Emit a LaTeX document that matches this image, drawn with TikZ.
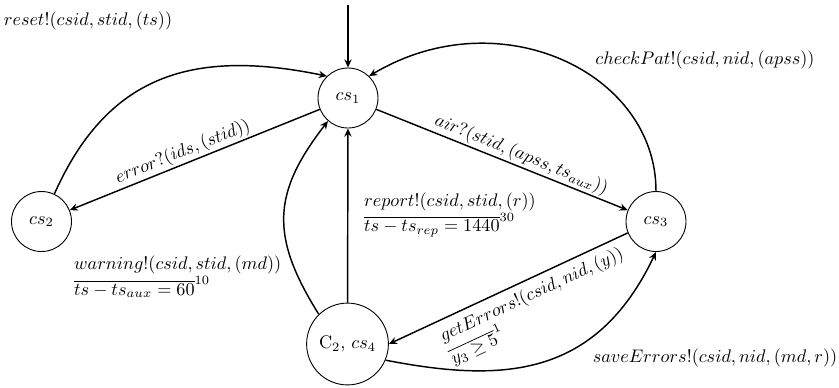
\documentclass[tikz,border=0pt]{standalone}
\usetikzlibrary{arrows.meta}
\begin{document}
\begin{tikzpicture}[x=0.55pt,y=-0.55pt,
  state/.style={circle,draw,line width=0.5pt,minimum size=33pt,inner sep=0pt},
  bigstate/.style={circle,draw,line width=0.5pt,minimum size=45pt,inner sep=0pt},
  edge/.style={line width=0.8pt,-{Stealth[length=4.5pt,width=4pt,inset=1.5pt]}},
  lbl/.style={font=\normalsize,inner sep=1pt,align=left}]
\useasboundingbox (0,0) rectangle (839,387);
\node[state] (cs1) at (348,98) {$cs_1$};
\node[state] (cs2) at (41.5,221.5) {$cs_2$};
\node[state] (cs3) at (656,221.5) {$cs_3$};
\node[bigstate] (cs4) at (347.5,344) {$\mathrm{C}_2$, $cs_4$};
\coordinate (init) at (348,5);
% initial
\draw[edge] (init) -- (cs1);
% cs1 -> cs2
\draw[edge] (cs1) -- node[lbl,above,sloped,pos=0.53] {$error?(ids,(stid))$} (cs2);
% cs2 -> cs1
\draw[edge] (cs2.65) .. controls (107,76) and (191,48) .. (cs1.134);
\node[lbl] (lreset) at (88,21) {$reset!(csid,stid,(ts))$};
% cs1 -> cs3
\draw[edge] (cs1) -- node[lbl,above,sloped,pos=0.56] {$air?(stid,(apss,ts_{aux}))$} (cs3);
% cs3 -> cs1
\draw[edge] (cs3.90) .. controls (656,72) and (499,-1.5) .. (cs1.46);
\node[lbl] (lcheck) at (705,60) {$checkPat!(csid,nid,(apss))$};
% cs4 -> cs1 vertical
\draw[edge] (cs4) -- (cs1);
\node[lbl,anchor=west] (lreport) at (362,215) {$report!(csid,stid,(r))$\\$\overline{ts-ts_{rep}=1440}^{30}$};
% cs4 -> cs1 curve
\draw[edge] (cs4.134) .. controls (270,236.5) and (272,193) .. (cs1.229);
\node[lbl,anchor=west] (lwarn) at (72,277) {$warning!(csid,stid,(md))$\\$\overline{ts-ts_{aux}=60}^{10}$};
% cs3 -> cs4
\draw[edge] (cs3.202) -- node[lbl,below=2.5pt,sloped,pos=0.43] {$getErrors!(csid,nid,(y))$\\$\overline{y_3\geq 5}^{1}$} (cs4.0);
% cs4 -> cs3
\draw[edge] (cs4.-23) .. controls (503,383) and (596,378) .. (cs3.270);
\node[lbl] (lsave) at (715,358) {$saveErrors!(csid,nid,(md,r))$};
\end{tikzpicture}
\end{document}
